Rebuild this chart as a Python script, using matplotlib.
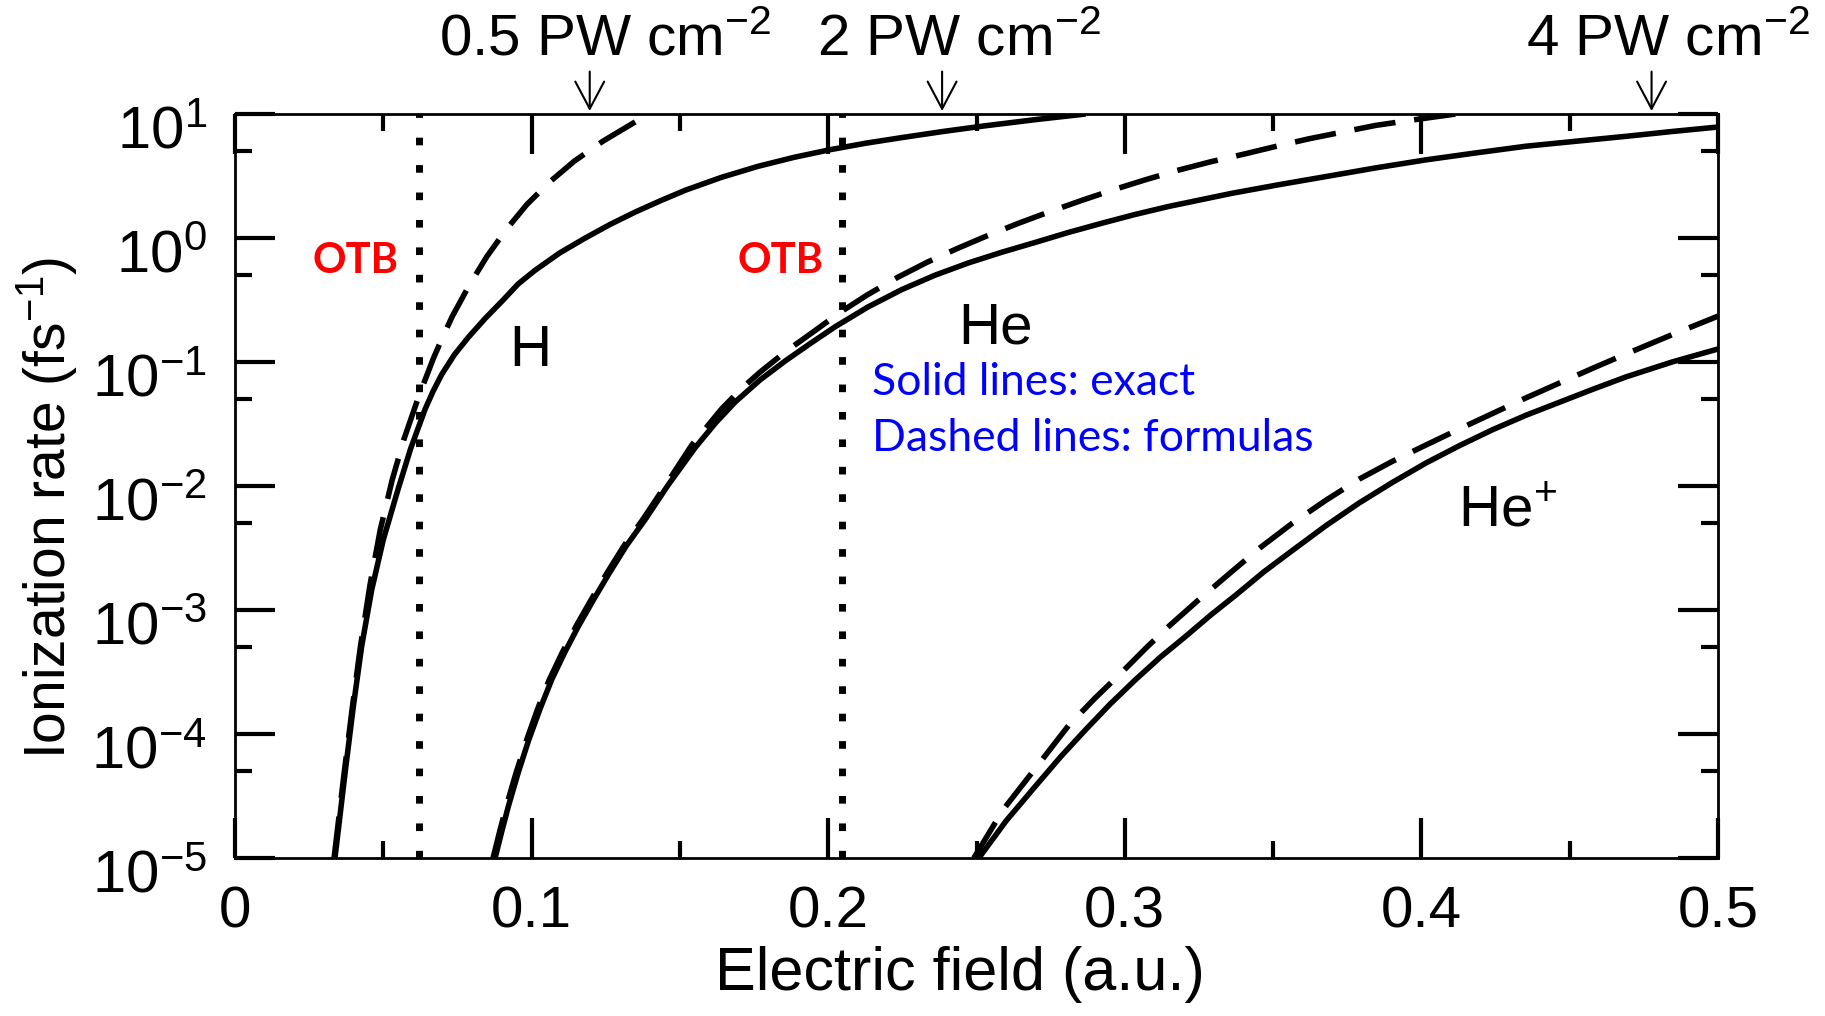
import numpy as np
import matplotlib
matplotlib.use('Agg')
import matplotlib.pyplot as plt
from matplotlib.ticker import LogLocator, MultipleLocator, NullFormatter, FormatStrFormatter
from matplotlib.transforms import blended_transform_factory, ScaledTranslation

plt.rcParams['font.family'] = ['Liberation Sans', 'DejaVu Sans']
plt.rcParams['mathtext.fontset'] = 'custom'
plt.rcParams['mathtext.rm'] = 'Liberation Sans'
plt.rcParams['mathtext.it'] = 'Liberation Sans:italic'
plt.rcParams['mathtext.bf'] = 'Liberation Sans:bold'
plt.rcParams['mathtext.default'] = 'regular'

# field (a.u.) and log10 of rate (fs^-1)
h_exact_x = [0.0337, 0.0371, 0.0399, 0.0427, 0.0461, 0.0500, 0.0548, 0.0592, 0.0641, 0.0668,
             0.0697, 0.0740, 0.0787, 0.0843, 0.0900, 0.0955, 0.1012, 0.1095, 0.1181, 0.1265,
             0.1350, 0.1434, 0.1518, 0.1640, 0.1762, 0.1884, 0.2006, 0.2128, 0.2249, 0.2390,
             0.2530, 0.2700, 0.2868]
h_exact_log = [-5.0, -4.315, -3.777, -3.293, -2.836, -2.433, -2.04, -1.70, -1.38, -1.235,
               -1.10, -0.94, -0.80, -0.65, -0.51, -0.37, -0.26, -0.12, 0.0, 0.11,
               0.21, 0.30, 0.385, 0.489, 0.577, 0.650, 0.712, 0.765, 0.81, 0.86,
               0.905, 0.955, 1.0]

h_formula_x = [0.0334, 0.0368, 0.0396, 0.0423, 0.0455, 0.0490, 0.0530, 0.0570, 0.0619, 0.0669,
               0.0700, 0.0733, 0.0790, 0.0849, 0.0915, 0.0984, 0.1060, 0.1144, 0.1240, 0.1338,
               0.1394]
h_formula_log = [-5.0, -4.315, -3.777, -3.293, -2.80, -2.35, -1.95, -1.62, -1.28, -0.97,
                 -0.80, -0.63, -0.38, -0.15, 0.07, 0.27, 0.45, 0.62, 0.78, 0.92,
                 1.0]

he_exact_x = [0.0877, 0.0900, 0.0922, 0.0955, 0.0990, 0.1028, 0.1068, 0.1112, 0.1158, 0.1208,
              0.1260, 0.1320, 0.1383, 0.1460, 0.1552, 0.1620, 0.1687, 0.1770, 0.1856, 0.1940,
              0.2024, 0.2135, 0.2249, 0.2360, 0.2474, 0.2585, 0.2699, 0.2810, 0.2924, 0.3035,
              0.3149, 0.3360, 0.3520, 0.3677, 0.3845, 0.4015, 0.4180, 0.4352, 0.4520, 0.4690,
              0.4850, 0.5000]
he_exact_log = [-5.0, -4.78, -4.58, -4.31, -4.05, -3.80, -3.56, -3.34, -3.13, -2.92,
                -2.71, -2.48, -2.27, -1.993, -1.689, -1.492, -1.321, -1.145, -0.99, -0.85,
                -0.715, -0.555, -0.415, -0.30, -0.20, -0.115, -0.035, 0.045, 0.12, 0.19,
                0.255, 0.36, 0.43, 0.495, 0.565, 0.63, 0.685, 0.74, 0.78, 0.82,
                0.86, 0.895]

he_formula_x = [0.0870, 0.0893, 0.0915, 0.0948, 0.0983, 0.1020, 0.1060, 0.1104, 0.1150, 0.1200,
                0.1252, 0.1312, 0.1375, 0.1450, 0.1540, 0.1640, 0.1705, 0.1771, 0.1860, 0.1948,
                0.2040, 0.2131, 0.2232, 0.2334, 0.2435, 0.2536, 0.2643, 0.2750, 0.2857, 0.2963,
                0.3070, 0.3177, 0.3290, 0.3408, 0.3515, 0.3621, 0.3735, 0.3846, 0.3980, 0.4116]
he_formula_log = [-5.0, -4.78, -4.58, -4.31, -4.05, -3.80, -3.56, -3.34, -3.13, -2.92,
                  -2.71, -2.48, -2.27, -2.00, -1.67, -1.38, -1.22, -1.08, -0.91, -0.76,
                  -0.60, -0.46, -0.32, -0.195, -0.085, 0.018, 0.12, 0.215, 0.305, 0.39,
                  0.47, 0.545, 0.615, 0.68, 0.742, 0.80, 0.855, 0.908, 0.955, 1.0]

hep_exact_x = [0.2508, 0.2600, 0.2699, 0.2785, 0.2868, 0.2950, 0.3036, 0.3120, 0.3205, 0.3290,
               0.3374, 0.3470, 0.3565, 0.3678, 0.3790, 0.3903, 0.4015, 0.4128, 0.4240, 0.4352,
               0.4465, 0.4578, 0.4690, 0.4845, 0.5000]
hep_exact_log = [-5.0, -4.70, -4.42, -4.18, -3.965, -3.76, -3.562, -3.38, -3.213, -3.04,
                 -2.88, -2.69, -2.52, -2.32, -2.137, -1.97, -1.815, -1.675, -1.546, -1.43,
                 -1.325, -1.22, -1.12, -1.00, -0.895]

hep_formula_x = [0.2491, 0.2590, 0.2691, 0.2811, 0.2900, 0.2991, 0.3070, 0.3149, 0.3248, 0.3346,
                 0.3455, 0.3565, 0.3678, 0.3790, 0.3903, 0.4015, 0.4128, 0.4240, 0.4352, 0.4465,
                 0.4578, 0.4690, 0.4845, 0.5000]
hep_formula_log = [-5.0, -4.61, -4.30, -3.93, -3.71, -3.50, -3.31, -3.13, -2.92, -2.72,
                   -2.50, -2.30, -2.115, -1.945, -1.80, -1.67, -1.54, -1.415, -1.29, -1.17,
                   -1.05, -0.935, -0.78, -0.63]

otb_x = [0.0620, 0.2047]
intensity_x = [0.1196, 0.2384, 0.4776]
intensity_labels = ['0.5 PW cm$^{-2}$', '2 PW cm$^{-2}$', '4 PW cm$^{-2}$']
ytick_exponents = [-5, -4, -3, -2, -1, 0, 1]

# layout
intensity_label_x = [0.1375, 0.3925, 0.8705]   # axes fraction, left edge
species = [('H', 0.0926, -1.035), ('He', 0.2439, -0.847), ('He$^{+}$', 0.4125, -2.32)]

fig = plt.figure(figsize=(18.25, 10.16), dpi=100)
ax = fig.add_axes([0.12877, 0.1555, 0.8126, 0.7323])

solid = dict(color='black', lw=4.0, solid_capstyle='butt', solid_joinstyle='round')
dashed = dict(color='black', lw=4.0, ls=(0, (7.5, 3.4)), dash_capstyle='butt')

ax.plot(h_exact_x, 10.0 ** np.array(h_exact_log), **solid)
ax.plot(h_formula_x, 10.0 ** np.array(h_formula_log), **dashed)
ax.plot(he_exact_x, 10.0 ** np.array(he_exact_log), **solid)
ax.plot(he_formula_x, 10.0 ** np.array(he_formula_log), **dashed)
ax.plot(hep_exact_x, 10.0 ** np.array(hep_exact_log), **solid)
ax.plot(hep_formula_x, 10.0 ** np.array(hep_formula_log), **dashed)

for xv in otb_x:
    ax.axvline(xv, color='black', lw=5, ls=(0, (1.1, 2.85)), dash_capstyle='butt')

ax.set_yscale('log')
ax.set_xlim(0, 0.5)
ax.set_ylim(1e-5, 1e1)

ax.xaxis.set_major_locator(MultipleLocator(0.1))
ax.xaxis.set_minor_locator(MultipleLocator(0.05))
ax.xaxis.set_major_formatter(FormatStrFormatter('%g'))
ax.yaxis.set_major_locator(LogLocator(base=10, numticks=20))
ax.yaxis.set_minor_locator(LogLocator(base=10, subs=(5.0,), numticks=20))
ax.yaxis.set_major_formatter(NullFormatter())
ax.yaxis.set_minor_formatter(NullFormatter())

ax.tick_params(which='both', direction='in', top=True, right=True, width=3)
ax.tick_params(which='major', length=29)
ax.tick_params(which='minor', length=12.5)
ax.tick_params(axis='x', labelsize=42, pad=20)
for sp in ax.spines.values():
    sp.set_linewidth(2)

# y tick labels: "10" sits below the tick, exponent near the tick level
ylab_tr = blended_transform_factory(ax.transAxes, ax.transData) + \
    ScaledTranslation(0, -25 / 72, fig.dpi_scale_trans)
for k in ytick_exponents:
    ax.text(-0.019, 10.0 ** k, '$10^{%d}$' % k, transform=ylab_tr, fontsize=43,
            ha='right', va='baseline')

ax.set_xlabel('Electric field (a.u.)', fontsize=44)
ax.xaxis.set_label_coords(0.4889, -0.118)
ax.set_ylabel('Ionization rate (fs$^{-1}$)', fontsize=41)
ax.yaxis.set_label_coords(-0.105, 0.47)

for name, xv, lv in species:
    ax.text(xv, 10.0 ** lv, name, fontsize=42, ha='left', va='baseline')

for xv in [0.0260, 0.1695]:
    ax.text(xv, 10 ** -0.28, 'OTB', color='red', fontsize=30, fontweight='bold',
            family=['Lato', 'DejaVu Sans'], ha='left', va='baseline')
ax.text(0.2146, 10 ** -1.264, 'Solid lines: exact', color='blue', fontsize=32,
        family=['Lato', 'DejaVu Sans'], ha='left', va='baseline')
ax.text(0.2146, 10 ** -1.72, 'Dashed lines: formulas', color='blue', fontsize=32,
        family=['Lato', 'DejaVu Sans'], ha='left', va='baseline')

for xv, lab, lx in zip(intensity_x, intensity_labels, intensity_label_x):
    ax.annotate('', xy=(xv, 1.004), xytext=(xv, 1.057),
                xycoords=('data', 'axes fraction'), textcoords=('data', 'axes fraction'),
                arrowprops=dict(arrowstyle='->,head_length=0.49,head_width=0.26',
                                mutation_scale=40, lw=1.5, color='black',
                                shrinkA=0, shrinkB=0),
                annotation_clip=False)
    ax.text(lx, 1.079, lab, transform=ax.transAxes, fontsize=42, ha='left', va='baseline')

fig.savefig('out.png', dpi=100)
